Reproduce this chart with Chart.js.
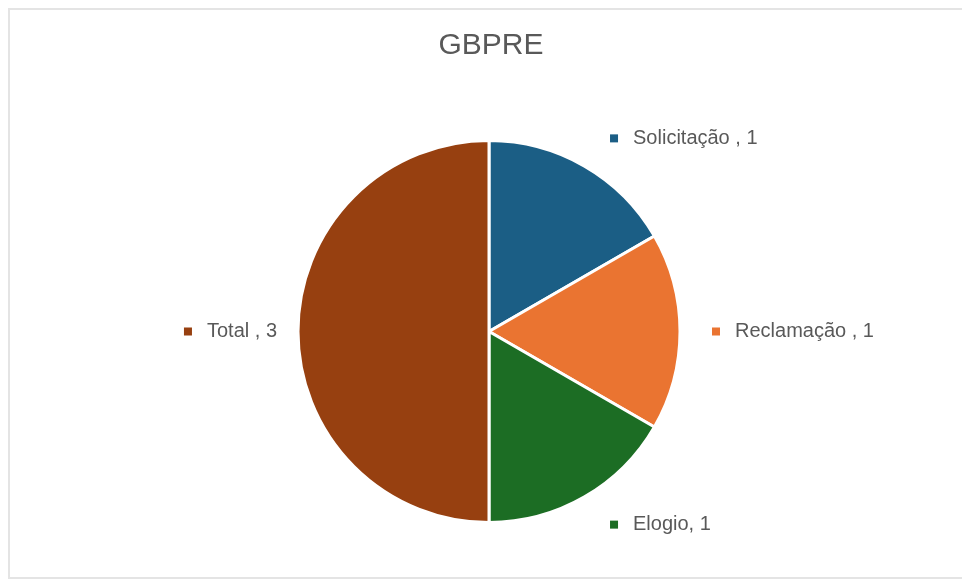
<!DOCTYPE html>
<html>
<head>
<meta charset="utf-8">
<script src="https://cdn.jsdelivr.net/npm/chart.js@4/dist/chart.umd.min.js"></script>
<style>
  html, body { margin: 0; padding: 0; background: #fff; }
  #wrap { position: relative; width: 962px; height: 583px; overflow: hidden; }
  #frame { position: absolute; left: 8px; top: 8px; width: 980px; height: 571px; border: 2px solid #e4e4e4; box-sizing: border-box; }
  canvas { position: absolute; left: 0; top: 0; }
</style>
</head>
<body>
<div id="wrap">
  <div id="frame"></div>
  <canvas id="pieChart" width="962" height="583"></canvas>
</div>
<script>
// GBPRE - pizza com rótulos externos

const chartTitle = 'GBPRE';
const categories = ['Solicitação ', 'Reclamação ', 'Elogio', 'Total '];
const values = [1, 1, 1, 3];
const sliceColors = ['#1b5e85', '#ea7431', '#1c6d24', '#974010'];

const textColor = '#595959';
const labelFont = '20px "Liberation Sans", Arial, sans-serif';

// titulo desenhado no topo
const titlePlugin = {
    id: 'titleText',
    afterDraw(chart) {
        const ctx = chart.ctx;
        ctx.save();
        ctx.fillStyle = textColor;
        ctx.font = '30px "Liberation Sans", Arial, sans-serif';
        ctx.textAlign = 'center';
        ctx.textBaseline = 'middle';
        ctx.fillText(chartTitle, 491, 46);
        ctx.restore();
    }
};

// rótulos fora da pizza: quadradinho colorido + "categoria, valor"
const outsideLabels = {
    id: 'outsideLabels',
    afterDatasetsDraw(chart) {
        const ctx = chart.ctx;
        const meta = chart.getDatasetMeta(0);
        ctx.save();
        ctx.font = labelFont;
        ctx.textBaseline = 'middle';
        meta.data.forEach((arc, i) => {
            const p = arc.getProps(['x', 'y', 'startAngle', 'endAngle', 'outerRadius'], true);
            const mid = (p.startAngle + p.endAngle) / 2;
            const cos = Math.cos(mid), sin = Math.sin(mid);
            const d = p.outerRadius + 32;
            const ax = p.x + d * cos;
            const ay = p.y + d * sin;
            const text = categories[i] + ', ' + values[i];
            const tw = ctx.measureText(text).width;
            const mk = 8, gap = 15;
            let mx;
            if (cos >= -0.01) {
                mx = ax + 11 * Math.abs(sin);
            } else {
                mx = ax + 11 - tw - gap - mk;
            }
            ctx.fillStyle = sliceColors[i];
            ctx.fillRect(mx, ay - mk / 2, mk, mk);
            ctx.fillStyle = textColor;
            ctx.textAlign = 'left';
            ctx.fillText(text, mx + mk + gap, ay);
        });
        ctx.restore();
    }
};

new Chart(document.getElementById('pieChart'), {
    type: 'pie',
    data: {
        labels: categories,
        datasets: [{
            data: values,
            backgroundColor: sliceColors,
            borderColor: '#ffffff',
            borderWidth: 3
        }]
    },
    options: {
        responsive: false,
        animation: false,
        layout: {
            padding: { top: 139, bottom: 59, left: 16, right: 0 }
        },
        plugins: {
            legend: { display: false },
            tooltip: { enabled: false },
            title: { display: false }
        }
    },
    plugins: [titlePlugin, outsideLabels]
});
</script>
</body>
</html>
